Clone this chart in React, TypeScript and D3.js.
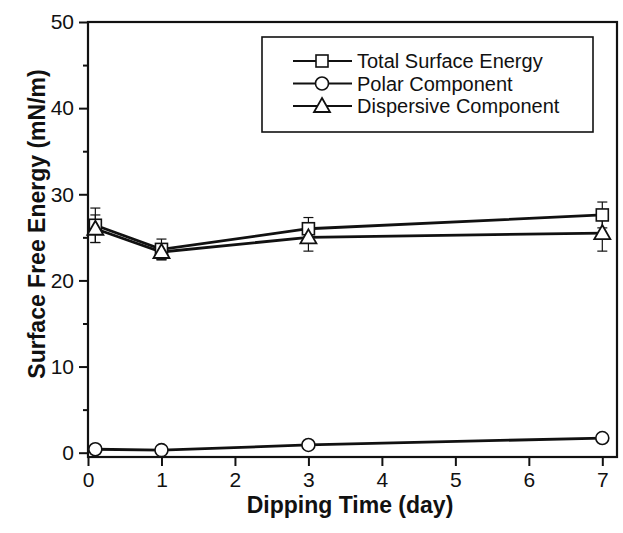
import React, { useEffect, useRef } from 'react';
import * as d3 from 'd3';

// dipping time in days
const days = [0.1, 1, 3, 7];

// surface energies (mN/m) with error bars
const totalEnergy = [26.4, 23.6, 26.0, 27.6];
const totalErr = [2.0, 1.2, 1.3, 1.5];
const polarComp = [0.4, 0.3, 0.9, 1.7];
const polarErr = [0.2, 0.2, 0.2, 0.2];
const dispersiveComp = [26.0, 23.3, 25.0, 25.5];
const dispersiveErr = [1.6, 0.9, 1.6, 2.1];

const xTicks = [0, 1, 2, 3, 4, 5, 6, 7];
const yTicks = [0, 10, 20, 30, 40, 50];
const yMinorTicks = [5, 15, 25, 35, 45];

const seriesNames = ['Total Surface Energy', 'Polar Component', 'Dispersive Component'];
const seriesShapes = ['square', 'circle', 'triangle'];

const App = () => {
    const chartRef = useRef<SVGSVGElement | null>(null);

    useEffect(() => {
        const svg = d3.select(chartRef.current);
        svg.selectAll('*').remove();

        const width = 623;
        const height = 533;
        const margin = { top: 22, right: 6, bottom: 76, left: 88 };
        const font = '"Liberation Sans", Arial, sans-serif';

        const x = d3.scaleLinear()
            .domain([0, 7.2])
            .range([margin.left, width - margin.right]);
        const y = d3.scaleLinear()
            .domain([-0.5, 50])
            .range([height - margin.bottom, margin.top]);

        svg.append('rect')
            .attr('width', width)
            .attr('height', height)
            .attr('fill', 'white');

        // axes
        const xAxis = svg.append('g')
            .attr('transform', `translate(0,${height - margin.bottom})`)
            .call(d3.axisBottom(x).tickValues(xTicks).tickSize(9).tickPadding(6).tickFormat(d3.format('d')));
        xAxis.select('.domain').remove();

        const yAxis = svg.append('g')
            .attr('transform', `translate(${margin.left},0)`)
            .call(d3.axisLeft(y).tickValues(yTicks).tickSize(9).tickPadding(5).tickFormat(d3.format('d')));
        yAxis.select('.domain').remove();

        svg.append('g')
            .attr('transform', `translate(${margin.left},0)`)
            .call(d3.axisLeft(y).tickValues(yMinorTicks).tickSize(5).tickFormat(() => ''))
            .select('.domain').remove();

        svg.selectAll('.tick line').attr('stroke', '#111').attr('stroke-width', 2);
        svg.selectAll('.tick text')
            .attr('fill', '#111')
            .style('font-family', font)
            .style('font-size', '21px');

        // frame
        svg.append('rect')
            .attr('x', margin.left)
            .attr('y', margin.top)
            .attr('width', width - margin.left - margin.right)
            .attr('height', height - margin.top - margin.bottom)
            .attr('fill', 'none')
            .attr('stroke', '#111')
            .attr('stroke-width', 2.2);

        // axis titles
        svg.append('text')
            .attr('x', 350)
            .attr('y', 513)
            .attr('text-anchor', 'middle')
            .style('font-family', font)
            .style('font-size', '23px')
            .style('font-weight', 'bold')
            .attr('fill', '#111')
            .text('Dipping Time (day)');

        svg.append('text')
            .attr('transform', `translate(45,224) rotate(-90)`)
            .attr('text-anchor', 'middle')
            .style('font-family', font)
            .style('font-size', '23px')
            .style('font-weight', 'bold')
            .attr('fill', '#111')
            .text('Surface Free Energy (mN/m)');

        const drawMarker = (g, shape, cx, cy) => {
            if (shape === 'square') {
                g.append('rect')
                    .attr('x', cx - 6).attr('y', cy - 6)
                    .attr('width', 12).attr('height', 12)
                    .attr('fill', 'white').attr('stroke', '#111').attr('stroke-width', 1.6);
            } else if (shape === 'circle') {
                g.append('circle')
                    .attr('cx', cx).attr('cy', cy).attr('r', 6.5)
                    .attr('fill', 'white').attr('stroke', '#111').attr('stroke-width', 1.6);
            } else {
                g.append('path')
                    .attr('d', `M${cx},${cy - 8}L${cx + 8},${cy + 6}L${cx - 8},${cy + 6}Z`)
                    .attr('fill', 'white').attr('stroke', '#111').attr('stroke-width', 1.8);
            }
        };

        const series = [
            { values: totalEnergy, err: totalErr },
            { values: polarComp, err: polarErr },
            { values: dispersiveComp, err: dispersiveErr },
        ];

        const line = d3.line<number>()
            .x((d, i) => x(days[i]))
            .y(d => y(d));

        series.forEach(s => {
            svg.append('path')
                .datum(s.values)
                .attr('d', line)
                .attr('fill', 'none')
                .attr('stroke', '#111')
                .attr('stroke-width', 2.8);
        });

        // error bars
        series.forEach(s => {
            const g = svg.append('g').attr('stroke', '#111').attr('stroke-width', 1.2);
            s.values.forEach((v, i) => {
                const cx = x(days[i]);
                const top = y(v + s.err[i]);
                const bot = y(v - s.err[i]);
                g.append('line').attr('x1', cx).attr('x2', cx).attr('y1', top).attr('y2', bot);
                g.append('line').attr('x1', cx - 5).attr('x2', cx + 5).attr('y1', top).attr('y2', top);
                g.append('line').attr('x1', cx - 5).attr('x2', cx + 5).attr('y1', bot).attr('y2', bot);
            });
        });

        // markers
        series.forEach((s, si) => {
            const g = svg.append('g');
            s.values.forEach((v, i) => drawMarker(g, seriesShapes[si], x(days[i]), y(v)));
        });

        // legend
        const legend = svg.append('g');
        legend.append('rect')
            .attr('x', 262).attr('y', 37)
            .attr('width', 331).attr('height', 95)
            .attr('fill', 'white').attr('stroke', '#111').attr('stroke-width', 1.6);
        seriesNames.forEach((name, i) => {
            const ly = 61 + i * 22.5;
            legend.append('line')
                .attr('x1', 293).attr('x2', 352).attr('y1', ly).attr('y2', ly)
                .attr('stroke', '#111').attr('stroke-width', 2);
            drawMarker(legend, seriesShapes[i], 322, ly);
            legend.append('text')
                .attr('x', 357).attr('y', ly)
                .attr('dy', '0.36em')
                .style('font-family', font)
                .style('font-size', '20px')
                .attr('fill', '#111')
                .text(name);
        });
    }, []);

    return (
        <svg
            ref={chartRef}
            width={623}
            height={533}
            style={{ position: 'absolute', left: 0, top: 0 }}
        />
    );
};

export default App;
